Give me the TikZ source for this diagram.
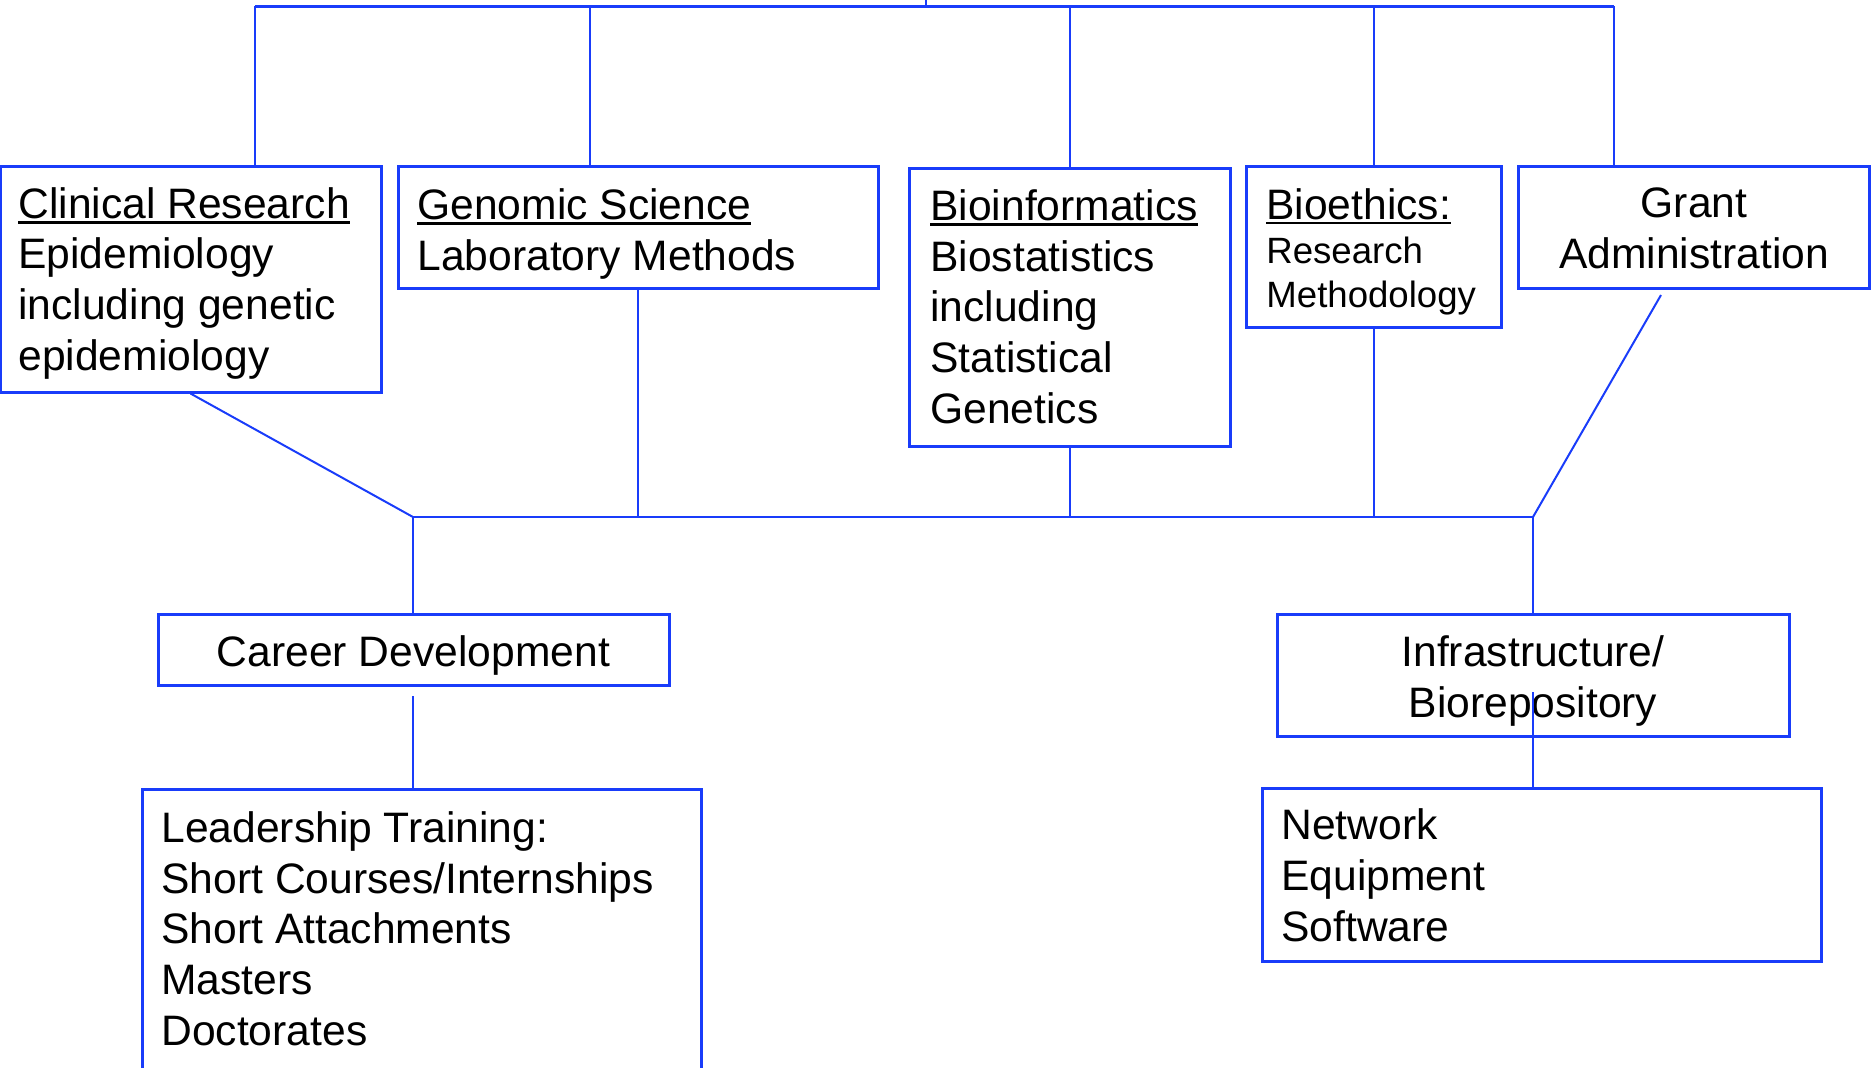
\documentclass[tikz,border=0pt]{standalone}
\usepackage{fontspec}
\setmainfont{Liberation Sans}
\definecolor{lineblue}{RGB}{25,60,250}
\newcommand\myul[1]{\setbox0\hbox{#1}\rlap{\rule[-2.7pt]{\wd0}{1.4pt}}\box0}
\begin{document}
\begin{tikzpicture}[x=0.5pt,y=-0.5pt,
  box/.style={draw=lineblue, line width=1.5pt, rectangle, inner sep=0pt},
  conn/.style={draw=lineblue, line width=1pt},
  txt/.style={inner sep=0pt, font=\fontsize{21.3}{25.3}\selectfont, text=black},
  ]
\useasboundingbox (0,0) rectangle (1874,1067);
% boxes
\node[box, minimum width=190.5pt, minimum height=113pt] (c1) at (190.5,279) {};
\node[box, minimum width=240pt, minimum height=61pt] (c2) at (638,227) {};
\node[box, minimum width=160.5pt, minimum height=139pt] (c3) at (1069.5,307) {};
\node[box, minimum width=127.5pt, minimum height=80.5pt] (c4) at (1373.5,246.5) {};
\node[box, minimum width=175.5pt, minimum height=61pt] (c5) at (1693.5,227) {};
\node[box, minimum width=255.5pt, minimum height=35.5pt] (c6) at (413.5,649.5) {};
\node[box, minimum width=256pt, minimum height=61pt] (c7) at (1533,675) {};
\node[box, minimum width=279.5pt, minimum height=140pt] (c8) at (421.5,929) {};
\node[box, minimum width=279.5pt, minimum height=86.5pt] (c9) at (1541.5,874.5) {};
% texts (anchor = baseline of the last line)
\node[txt, align=left, anchor=base west] (t1) at (18,370) {\myul{Clinical Research}\\Epidemiology\\including genetic\\epidemiology};
\node[txt, align=left, anchor=base west] (t2) at (417,270) {\myul{Genomic Science}\\Laboratory Methods};
\node[txt, align=left, anchor=base west] (t3) at (930,423) {\myul{Bioinformatics}\\Biostatistics\\including\\Statistical\\Genetics};
\node[txt, align=left, anchor=base west, font=\fontsize{18.3}{22}\selectfont] (t4) at (1266,307) {\myul{\fontsize{21.3}{22}\selectfont Bioethics:}\\Research\\Methodology};
\node[txt, align=center, anchor=base] (t5) at (1694,268) {Grant\\Administration};
\node[txt, align=center, anchor=base] (t6) at (413.5,666) {Career Development};
\node[txt, align=center, anchor=base] (t7) at (1533,717) {Infrastructure/\\Biorepository};
\node[txt, align=left, anchor=base west] (t8) at (161,1045) {Leadership Training:\\Short Courses/Internships\\Short Attachments\\Masters\\Doctorates};
\node[txt, align=left, anchor=base west] (t9) at (1281,941) {Network\\Equipment\\Software};
% top bus
\coordinate (top) at (926,0);
\coordinate (tb) at (926,6);
\coordinate (b1) at (255,6);
\coordinate (b2) at (590,6);
\coordinate (b3) at (1070,6);
\coordinate (b4) at (1374,6);
\coordinate (b5) at (1614,6);
\draw[conn] (top) -- (tb);
\draw[conn, line width=1.5pt] (b1) -- (b5);
\draw[conn] (b1) -- (b1 |- c1.north);
\draw[conn] (b2) -- (b2 |- c2.north);
\draw[conn] (b3) -- (b3 |- c3.north);
\draw[conn] (b4) -- (b4 |- c4.north);
\draw[conn] (b5) -- (b5 |- c5.north);
% lower bus
\coordinate (L) at (413,517);
\coordinate (R) at (1533,517);
\coordinate (g5) at (1661,295);
\coordinate (cd) at (413,696);
\coordinate (ib) at (1533,692);
\draw[conn, line width=1.3pt] (L) -- (R);
\draw[conn] (c1.south) -- (L);
\draw[conn] (c2.south) -- (c2.south |- L);
\draw[conn] (c3.south) -- (c3.south |- L);
\draw[conn] (c4.south) -- (c4.south |- L);
\draw[conn] (g5) -- (R);
\draw[conn] (L) -- (L |- c6.north);
\draw[conn] (cd) -- (cd |- c8.north);
\draw[conn] (R) -- (R |- c7.north);
\draw[conn] (ib) -- (ib |- c9.north);
\end{tikzpicture}
\end{document}
